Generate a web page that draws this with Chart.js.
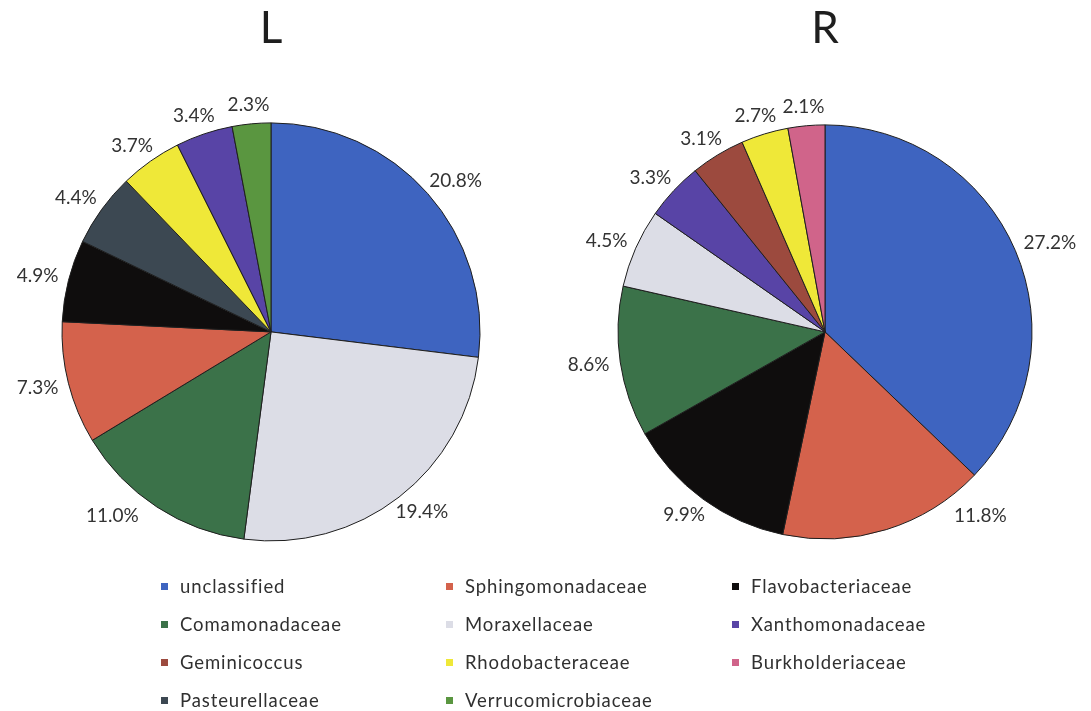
<!DOCTYPE html>
<html>
<head>
<meta charset="utf-8">
<script src="https://cdn.jsdelivr.net/npm/chart.js@4.4.1/dist/chart.umd.min.js"></script>
<style>
  html, body { margin: 0; padding: 0; background: #fff; width: 1091px; height: 711px; overflow: hidden; }
  #wrap { position: relative; width: 1091px; height: 711px; }
  canvas { position: absolute; top: 0; }
  #pieL { left: 0; }
  #pieR { left: 545px; }
  #legend {
    position: absolute; left: 158px; top: 567px;
    display: grid; grid-template-columns: 285px 286px 200px; grid-auto-rows: 38px;
    font-family: Lato, "Open Sans", sans-serif; font-size: 18.5px; letter-spacing: 0.9px; color: #303030;
  }
  .item { display: flex; align-items: center; white-space: nowrap; }
  .swatch { width: 7px; height: 7px; margin: 0 12px 0 3px; flex: none; }
</style>
</head>
<body>
<div id="wrap">
  <canvas id="pieL" width="542" height="605"></canvas>
  <canvas id="pieR" width="546" height="605"></canvas>
  <div id="legend"></div>
</div>
<script>
// Families shown in the legend, in legend order, with their colours
const categories = ['unclassified', 'Sphingomonadaceae', 'Flavobacteriaceae',
                    'Comamonadaceae', 'Moraxellaceae', 'Xanthomonadaceae',
                    'Geminicoccus', 'Rhodobacteraceae', 'Burkholderiaceae',
                    'Pasteurellaceae', 'Verrucomicrobiaceae'];
const categoryColors = ['#3e64c0', '#d4624c', '#0f0d0d',
                        '#3b7249', '#dcdde6', '#5844a6',
                        '#9c4a3e', '#efe838', '#d0648a',
                        '#3c4852', '#5a9640'];

// Sample L: relative abundance (%)
const leftLabels = ['unclassified', 'Moraxellaceae', 'Comamonadaceae', 'Sphingomonadaceae',
                    'Flavobacteriaceae', 'Pasteurellaceae', 'Rhodobacteraceae',
                    'Xanthomonadaceae', 'Verrucomicrobiaceae'];
const leftValues = [20.8, 19.4, 11.0, 7.3, 4.9, 4.4, 3.7, 3.4, 2.3];

// Sample R: relative abundance (%)
const rightLabels = ['unclassified', 'Sphingomonadaceae', 'Flavobacteriaceae', 'Comamonadaceae',
                     'Moraxellaceae', 'Xanthomonadaceae', 'Geminicoccus',
                     'Rhodobacteraceae', 'Burkholderiaceae'];
const rightValues = [27.2, 11.8, 9.9, 8.6, 4.5, 3.3, 3.1, 2.7, 2.1];

const colorOf = name => categoryColors[categories.indexOf(name)];

// Percentage labels placed just outside each slice, kept above a bottom limit
const outsideLabels = {
  id: 'outsideLabels',
  afterDatasetsDraw(chart, args, opts) {
    const ctx = chart.ctx;
    const meta = chart.getDatasetMeta(0);
    const values = chart.data.datasets[0].data;
    ctx.save();
    ctx.font = opts.font;
    ctx.fillStyle = opts.color;
    ctx.textAlign = 'center';
    ctx.textBaseline = 'middle';
    meta.data.forEach((arc, i) => {
      const p = arc.getProps(['x', 'y', 'startAngle', 'endAngle', 'outerRadius'], true);
      const mid = (p.startAngle + p.endAngle) / 2;
      const ux = Math.cos(mid), uy = Math.sin(mid);
      const text = values[i].toFixed(1) + '%';
      const w = ctx.measureText(text).width, h = opts.boxHeight;
      const r = p.outerRadius + opts.gap;
      let cx = p.x + ux * r + ux * w / 2;
      let cy = p.y + uy * r + uy * h / 2;
      if (cy > opts.maxY) {
        cy = opts.maxY;
        const dir = ux >= 0 ? 1 : -1;
        const nearest = () => {
          const nx = Math.min(Math.max(p.x, cx - w / 2), cx + w / 2);
          const ny = Math.min(Math.max(p.y, cy - h / 2), cy + h / 2);
          return Math.hypot(nx - p.x, ny - p.y);
        };
        let guard = 0;
        while (nearest() < r && guard++ < 400) cx += dir;
      }
      ctx.fillText(text, cx, cy);
    });
    ctx.restore();
  }
};

function makePie(canvasId, title, labels, values, radius, padLeft) {
  return new Chart(document.getElementById(canvasId), {
    type: 'pie',
    data: {
      labels: labels,
      datasets: [{
        data: values,
        backgroundColor: labels.map(colorOf),
        borderColor: '#1e1e1e',
        borderWidth: 1,
        radius: radius
      }]
    },
    options: {
      responsive: false,
      animation: false,
      events: [],
      layout: { padding: { left: padLeft, right: 0, top: 0, bottom: 0 } },
      plugins: {
        legend: { display: false },
        tooltip: { enabled: false },
        title: {
          display: true,
          text: title,
          color: '#1e1e1e',
          font: { family: 'Lato', size: 44, weight: 'normal', lineHeight: 1.2 },
          padding: { top: 2, bottom: 4 }
        },
        outsideLabels: {
          font: '19px Lato',
          color: '#333333',
          boxHeight: 16,
          gap: 11,
          maxY: 516
        }
      }
    },
    plugins: [outsideLabels]
  });
}

makePie('pieL', 'L', leftLabels, leftValues, 209, 0);
makePie('pieR', 'R', rightLabels, rightValues, 207, 14);

// Shared legend, three columns
const legend = document.getElementById('legend');
categories.forEach((name, i) => {
  const item = document.createElement('div');
  item.className = 'item';
  const sw = document.createElement('span');
  sw.className = 'swatch';
  sw.style.background = categoryColors[i];
  const tx = document.createElement('span');
  tx.textContent = name;
  item.appendChild(sw);
  item.appendChild(tx);
  legend.appendChild(item);
});
</script>
</body>
</html>
